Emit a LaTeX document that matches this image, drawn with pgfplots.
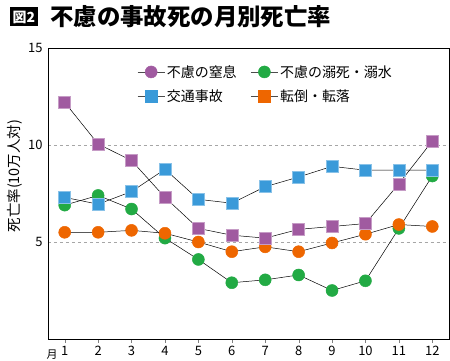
\documentclass[border=0pt]{standalone}
\usepackage{fontspec}
\setmainfont{Noto Sans CJK JP}
\usepackage{pgfplots}
\pgfplotsset{compat=1.18}
\definecolor{cpurple}{HTML}{A05AA0}
\definecolor{cblue}{HTML}{3A9AD9}
\definecolor{cgreen}{HTML}{22AA44}
\definecolor{corange}{HTML}{EE6600}
\begin{document}
\begin{tikzpicture}
\useasboundingbox (-48bp,-22bp) rectangle (402bp,339bp);
\begin{axis}[
  at={(0,0)}, anchor=south west,
  scale only axis, width=401bp, height=291bp,
  xmin=0.5, xmax=12.5, ymin=0, ymax=15,
  xtick={1,...,12}, ytick={5,10,15},
  tick label style={font=\fontsize{13}{14}\selectfont},
  /pgf/number format/assume math mode=true,
  xtick pos=bottom, xtick align=outside, major tick length=4bp,
  ytick style={draw=none},
  axis line style={line width=0.8pt},
  ymajorgrids, grid style={dashed, gray!70, line width=0.5pt},
  yticklabel style={xshift=-2bp},
  ylabel={死亡率(10万人対)},
  ylabel style={font=\fontsize{14.5}{15}\selectfont, at={(axis description cs:-0.082,0.56)}, anchor=center},
  legend columns=2,
  legend style={at={(rel axis cs:0.215,0.955)}, anchor=north west, draw=none, fill=none,
    font=\fontsize{14}{16}\selectfont, row sep=7bp, nodes={anchor=west},
    /tikz/every even column/.append style={column sep=12bp}},
  legend image code/.code={%
    \draw[gray!60!black, line width=0.6pt] (0cm,0cm) -- (0.95cm,0cm);
    \draw[#1] plot coordinates {(0.475cm,0cm)};},
  every axis plot/.append style={line width=0.5pt},
  clip=false,
]
\addlegendimage{only marks, mark=*, mark size=6bp, mark options={fill=cpurple, draw=cpurple}}
\addlegendentry{不慮の窒息}
\addlegendimage{only marks, mark=*, mark size=6bp, mark options={fill=cgreen, draw=cgreen}}
\addlegendentry{不慮の溺死・溺水}
\addlegendimage{only marks, mark=square*, mark size=6bp, mark options={fill=cblue, draw=cblue}}
\addlegendentry{交通事故}
\addlegendimage{only marks, mark=square*, mark size=6bp, mark options={fill=corange, draw=corange}}
\addlegendentry{転倒・転落}
% green: drowning
\addplot[black, mark=*, mark size=6bp, mark options={fill=cgreen, draw=cgreen}, forget plot] coordinates {
(1,6.9) (2,7.4) (3,6.7) (4,5.2) (5,4.1) (6,2.9) (7,3.05) (8,3.3) (9,2.5) (10,3.0) (11,5.7) (12,8.4)};
% orange: falls
\addplot[black, mark=*, mark size=6bp, mark options={fill=corange, draw=corange}, forget plot] coordinates {
(1,5.5) (2,5.5) (3,5.6) (4,5.45) (5,5.0) (6,4.5) (7,4.75) (8,4.5) (9,4.95) (10,5.4) (11,5.9) (12,5.8)};
% purple: suffocation
\addplot[black, mark=square*, mark size=6bp, mark options={fill=cpurple, draw=cpurple!60}, forget plot] coordinates {
(1,12.2) (2,10.05) (3,9.2) (4,7.3) (5,5.7) (6,5.35) (7,5.2) (8,5.65) (9,5.8) (10,5.95) (11,8.0) (12,10.2)};
% blue: traffic
\addplot[black, mark=square*, mark size=6bp, mark options={fill=cblue, draw=cblue!60}, forget plot] coordinates {
(1,7.3) (2,6.95) (3,7.6) (4,8.75) (5,7.2) (6,7.0) (7,7.85) (8,8.35) (9,8.9) (10,8.7) (11,8.7) (12,8.7)};
\node[font=\fontsize{11}{12}\selectfont, anchor=center] at (axis cs:0.62,-0.82) {月};
\end{axis}
\node[anchor=west, fill=black, text=white, font=\fontsize{14}{15}\selectfont\bfseries, inner xsep=2.5bp, inner ysep=0pt, minimum height=19bp] at (-38bp,322bp) {図2};
\node[anchor=west, font=\fontsize{23.5}{24}\selectfont\bfseries, inner sep=0pt] at (2bp,322bp) {不慮の事故死の月別死亡率};
\end{tikzpicture}
\end{document}
